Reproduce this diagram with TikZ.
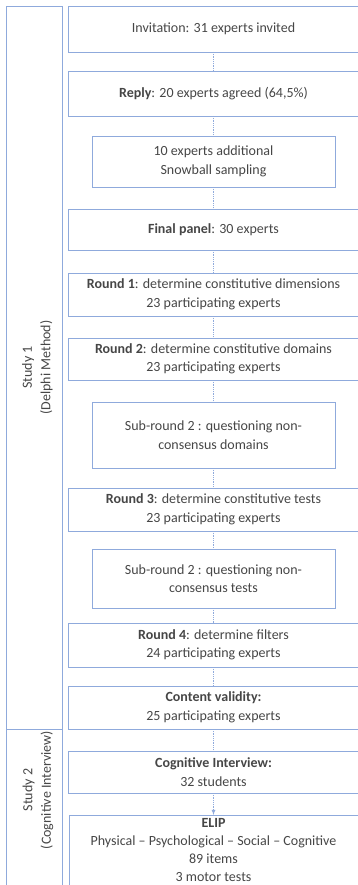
\documentclass[tikz,border=0pt]{standalone}
\usepackage{fontspec}
\setmainfont{Carlito}
\usetikzlibrary{arrows,positioning}
\tikzset{>=latex}
\definecolor{boxline}{RGB}{143,170,220}
\definecolor{boxtext}{RGB}{70,70,70}

\begin{document}
\begin{tikzpicture}[x=1pt,y=1pt]
        % s1/s2 = study frames on the left, the rest = flow boxes (1pt = 1px)
        \tikzstyle{every node}=[font=\fontsize{14}{18.5}\selectfont, text=boxtext, align=center, inner sep=2pt, outer sep=0pt]
        \tikzstyle{wide}=[rectangle, draw=boxline, line width=0.7pt, minimum width=291pt]
        \tikzstyle{narrow}=[rectangle, draw=boxline, line width=0.7pt, minimum width=243pt]
        \tikzstyle{frame}=[rectangle, draw=boxline, line width=0.7pt, minimum width=56pt]
        \tikzstyle{link}=[boxline, densely dotted, line width=0.8pt]
        \useasboundingbox (0,0) rectangle (358,-885);
        \node[frame, minimum height=723pt] (s1) at (34.5,-367.5) {};
        \node[rotate=90] (s1txt) at ([xshift=3pt]s1.center) {Study 1\\(Delphi Method)};
        \node[frame, minimum height=160pt] (s2) at (34.5,-809) {};
        \node[rotate=90] (s2txt) at (38,-790) {Study 2\\(Cognitive Interview)};
        \node[wide, minimum height=46pt] (inv) at (213.5,-29) {Invitation: 31 experts invited};
        \node[wide, minimum height=45pt, below=19pt of inv] (reply) {\textbf{Reply}: 20 experts agreed (64,5\%)};
        \draw[link] (inv) -- (reply);
        \node[narrow, minimum height=51pt, below=20pt of reply] (snow) {10 experts additional\\Snowball sampling};
        \draw[link] (reply) -- (snow);
        \node[wide, minimum height=41pt, below=22pt of snow] (final) {\textbf{Final panel}: 30 experts};
        \draw[link] (snow) -- (final);
        \node[wide, minimum height=43pt, below=23pt of final] (r1) {\textbf{Round 1}: determine constitutive dimensions\\23 participating experts};
        \draw[link] (final) -- (r1);
        \node[wide, minimum height=42pt, below=22pt of r1] (r2) {\textbf{Round 2}: determine constitutive domains\\23 participating experts};
        \draw[link] (r1) -- (r2);
        \node[narrow, minimum height=66pt, below=22pt of r2] (sub2d) {Sub-round 2 : questioning non-\\consensus domains};
        \draw[link] (r2) -- (sub2d);
        \node[wide, minimum height=43pt, below=20pt of sub2d] (r3) {\textbf{Round 3}: determine constitutive tests\\23 participating experts};
        \draw[link] (sub2d) -- (r3);
        \node[narrow, minimum height=59pt, below=18pt of r3] (sub2t) {Sub-round 2 : questioning non-\\consensus tests};
        \draw[link] (r3) -- (sub2t);
        \node[wide, minimum height=44pt, below=15pt of sub2t] (r4) {\textbf{Round 4}: determine filters\\24 participating experts};
        \draw[link] (sub2t) -- (r4);
        \node[wide, minimum height=43pt, below=19pt of r4] (cv) {\textbf{Content validity:}\\25 participating experts};
        \draw[link] (r4) -- (cv);
        \node[wide, minimum height=42pt, below=22pt of cv] (ci) {\textbf{Cognitive Interview:}\\32 students};
        \draw[link] (cv) -- (ci);
        \node[wide, minimum height=70pt, minimum width=289pt, below=22pt of ci, font=\fontsize{14}{18}\selectfont] (elip) {\textbf{ELIP}\\Physical -- Psychological -- Social -- Cognitive\\89 items\\3 motor tests};
        \draw[link, ->] (ci) -- (elip);
\end{tikzpicture}
\end{document}
